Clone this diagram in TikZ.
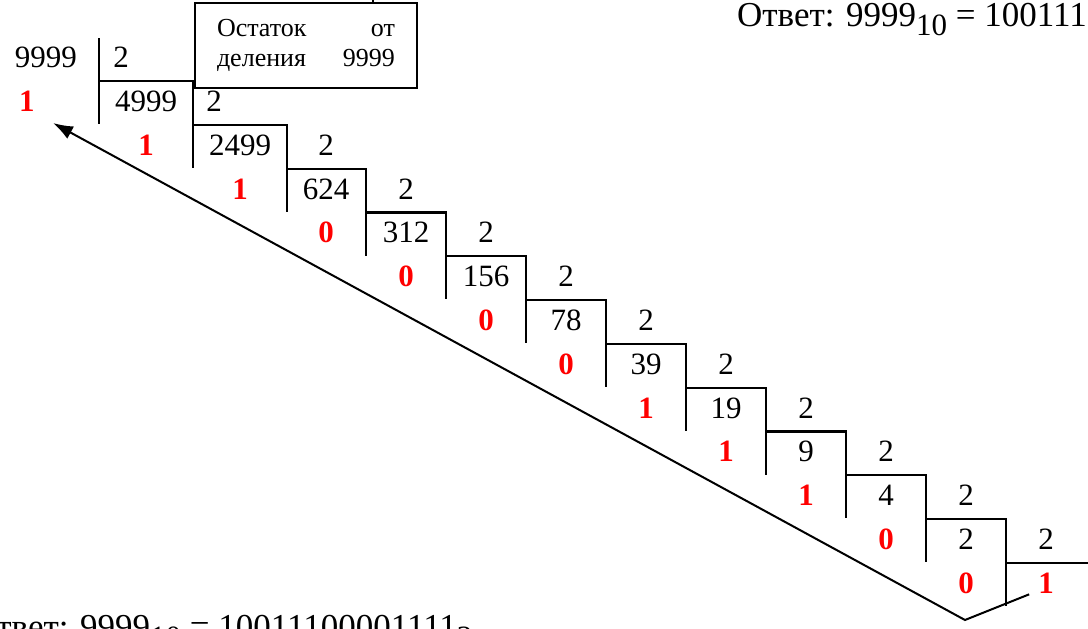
\documentclass[tikz,border=0pt]{standalone}
\usepackage{fontspec}
\setmainfont{Liberation Serif}
\usepackage{tikz}
\usetikzlibrary{arrows.meta}
\usetikzlibrary{positioning}
\tikzstyle{every node} = [inner sep=0]
\newcommand{\numfont}{\fontsize{31}{36}\selectfont}
\newcommand{\ansfont}{\fontsize{35}{40}\selectfont}
\newcommand{\lowsub}[1]{\raisebox{-9pt}{\fontsize{31}{36}\selectfont #1}}

\begin{document}
\begin{tikzpicture}[x=1pt, y=-1pt, line width=2.2pt,
    num/.style={font=\numfont},
    rem/.style={font=\numfont\bfseries, text=red},
    answer/.style={font=\ansfont, anchor=base west}]
    \path[use as bounding box, clip] (0,0) rectangle (1088,629);

    % Division steps
    \draw (99,38) -- (99,124);
    \foreach \a/\b [count=\k from 0] in {99/193, 193/287, 287/366, 366/446, 446/526, 526/606, 606/686, 686/766, 766/846, 846/926, 926/1006}
        \draw ({\a},{81+43.8*\k}) -- ({\b},{81+43.8*\k}) -- ++(0,87);
    \draw (1006,562.8) -- (1095,562.8);

    % Dividends, divisors and remainders
    \foreach \num/\xd/\xt/\xr/\rem [count=\k from 0] in {9999/46/121/27/1, 4999/146/214/146/1, 2499/240/326/240/1, 624/326/406/326/0, 312/406/486/406/0, 156/486/566/486/0, 78/566/646/566/0, 39/646/726/646/1, 19/726/806/726/1, 9/806/886/806/1, 4/886/966/886/0, 2/966/1046/966/0} {
        \node[num] (d\k) at ({\xd},{57.5+43.8*\k}) {\num};
        \node[num] (t\k) at ({\xt},{57.5+43.8*\k}) {2};
        \node[rem] (r\k) at ({\xr},{101.3+43.8*\k}) {\rem};
    }

    % Last quotient
    \node[rem] (q) at (1046,583) {1};

    % Note box
    \node[draw, line width=1.8pt, minimum width=222pt, minimum height=85pt, text width=178pt, align=left, font=\fontsize{26}{30}\selectfont] (note) at (306,45.5) {Остаток\hfill от\\деления\hfill 9999};
    \coordinate (up) at (373,-3);
    \draw[line width=1.8pt] (note.north -| up) -- (up);

    % Arrow back to the first remainder
    \coordinate (turn) at (965,620);
    \coordinate (tip) at (53,123);
    \draw[line width=2pt, -{Latex[length=20pt,width=14pt]}] ([xshift=-8pt]q.south west) -- (turn) -- (tip);

    % Answers
    \node[answer] (anstop) at (736,27) {Ответ: 9999\lowsub{10} = 10011100001111\lowsub{2}};
    \node[answer] (ansbottom) at (-30,638) {Ответ: 9999\lowsub{10} = 10011100001111\lowsub{2}};
\end{tikzpicture}
\end{document}
